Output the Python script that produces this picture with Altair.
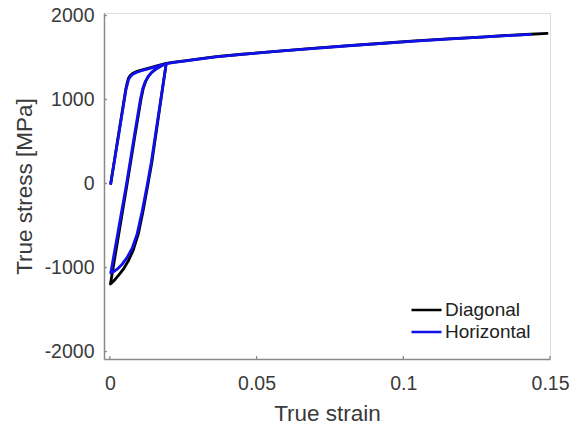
import altair as alt
import pandas as pd

series_names = ["Diagonal", "Horizontal"]
series_colors = ["#000000", "#1010e8"]

diag_strain = [0.0003, 0.0054, 0.0059, 0.0063, 0.0069, 0.0077, 0.0089, 0.0104, 0.0130, 0.0160, 0.0192,
               0.0143, 0.0129, 0.0113, 0.0097, 0.0080, 0.0063, 0.0046, 0.0028, 0.0013, 0.0002,
               0.0059, 0.0084, 0.0106, 0.0114, 0.0122, 0.0131, 0.0143, 0.0160, 0.0178, 0.0192,
               0.0220, 0.0260, 0.0310, 0.0362, 0.0450, 0.0587, 0.0700, 0.0814, 0.0930,
               0.1040, 0.1150, 0.1265, 0.1350, 0.1434, 0.1490]
diag_stress = [0, 1120, 1200, 1250, 1285, 1310, 1330, 1348, 1372, 1400, 1430,
               250, -24, -330, -600, -790, -920, -1020, -1100, -1160, -1196,
               0, 540, 1000, 1135, 1215, 1275, 1325, 1373, 1408, 1430,
               1444, 1462, 1487, 1510, 1539, 1580, 1612, 1642, 1670,
               1697, 1722, 1744, 1762, 1777, 1787]

horiz_strain = [0.0003, 0.0055, 0.0060, 0.0064, 0.0070, 0.0078, 0.0090, 0.0105, 0.0130, 0.0160, 0.0192,
                0.0141, 0.0127, 0.0110, 0.0093, 0.0076, 0.0059, 0.0042, 0.0025, 0.0012, 0.0003,
                0.0057, 0.0083, 0.0104, 0.0112, 0.0120, 0.0130, 0.0142, 0.0160, 0.0178, 0.0192,
                0.0220, 0.0260, 0.0310, 0.0362, 0.0450, 0.0587, 0.0700, 0.0814, 0.0930,
                0.1040, 0.1150, 0.1265, 0.1350, 0.1434]
horiz_stress = [0, 1120, 1190, 1240, 1275, 1300, 1322, 1340, 1365, 1395, 1425,
                250, -24, -330, -600, -770, -880, -960, -1020, -1050, -1065,
                0, 560, 1000, 1130, 1210, 1270, 1320, 1370, 1405, 1428,
                1442, 1460, 1485, 1508, 1537, 1578, 1610, 1640, 1668,
                1695, 1720, 1742, 1760, 1775]

x_ticks = [0, 0.05, 0.1, 0.15]
y_ticks = [-2000, -1000, 0, 1000, 2000]

rows = []
for name, xs, ys in [("Diagonal", diag_strain, diag_stress),
                     ("Horizontal", horiz_strain, horiz_stress)]:
    for i, (a, b) in enumerate(zip(xs, ys)):
        rows.append({"series": name, "strain": a, "stress": b, "idx": i})
df = pd.DataFrame(rows)
xtick_df = pd.DataFrame({"strain": x_ticks})
ytick_df = pd.DataFrame({"stress": y_ticks})

FONT = "Liberation Sans"
AXIS_COLOR = "#8a8a8a"
TEXT_COLOR = "#3a3a3a"
W, H = 446, 346

x_scale = alt.Scale(domain=[-0.002, 0.15], nice=False, zero=False)
y_scale = alt.Scale(domain=[-2089, 2030], nice=False, zero=False)

x_axis = alt.Axis(values=x_ticks, labelExpr="'' + datum.value",
                  title="True strain", grid=False, ticks=False,
                  labelPadding=15, labelFontSize=19.5,
                  titleFontSize=22.5, titleFontWeight="normal",
                  titleY=61, titleBaseline="alphabetic",
                  domainColor=AXIS_COLOR, domainWidth=1.5,
                  labelColor=TEXT_COLOR, titleColor=TEXT_COLOR,
                  labelFont=FONT, titleFont=FONT, labelFlush=False)
y_axis = alt.Axis(values=y_ticks, labelExpr="'' + datum.value",
                  title="True stress [MPa]", grid=False, ticks=False,
                  labelPadding=10, labelFontSize=19.5,
                  titleFontSize=22.5, titleFontWeight="normal",
                  titleX=-73, titleY=173, titleAngle=270,
                  titleAlign="center", titleBaseline="alphabetic",
                  domainColor=AXIS_COLOR, domainWidth=1.5,
                  labelColor=TEXT_COLOR, titleColor=TEXT_COLOR,
                  labelFont=FONT, titleFont=FONT, labelFlush=False)

x_enc = alt.X("strain:Q", scale=x_scale, axis=x_axis)
y_enc = alt.Y("stress:Q", scale=y_scale, axis=y_axis)
color_enc = alt.Color("series:N",
                      scale=alt.Scale(domain=series_names, range=series_colors),
                      legend=alt.Legend(title=None, orient="none",
                                        legendX=306, legendY=286,
                                        symbolType="stroke", symbolSize=900,
                                        symbolStrokeWidth=2.5,
                                        labelFontSize=19, labelFont=FONT,
                                        labelColor="#222222", labelOffset=2,
                                        clipHeight=22, rowPadding=0, padding=0))

layers = []
for name in series_names:
    layers.append(
        alt.Chart(df[df["series"] == name])
        .mark_line(strokeWidth=2.8, strokeJoin="round", strokeCap="round")
        .encode(x=x_enc, y=y_enc, color=color_enc, order=alt.Order("idx:Q"))
    )

# small inward ticks, MATLAB style
xticks_layer = alt.Chart(xtick_df).mark_rule(color=AXIS_COLOR, strokeWidth=1.3).encode(
    x=x_enc, y=alt.value(H), y2=alt.value(H - 3))
yticks_layer = alt.Chart(ytick_df).mark_rule(color=AXIS_COLOR, strokeWidth=1.3).encode(
    y=y_enc, x=alt.value(0), x2=alt.value(3))

chart = (
    alt.layer(xticks_layer, yticks_layer, *layers)
    .properties(width=W, height=H,
                autosize=alt.AutoSizeParams(type="none"),
                padding={"left": 104, "top": 13, "right": 23, "bottom": 69})
    .configure_view(stroke=None)
    .configure(background="white")
)

chart.save("out.html", embed_options={"renderer": "svg", "actions": False})
